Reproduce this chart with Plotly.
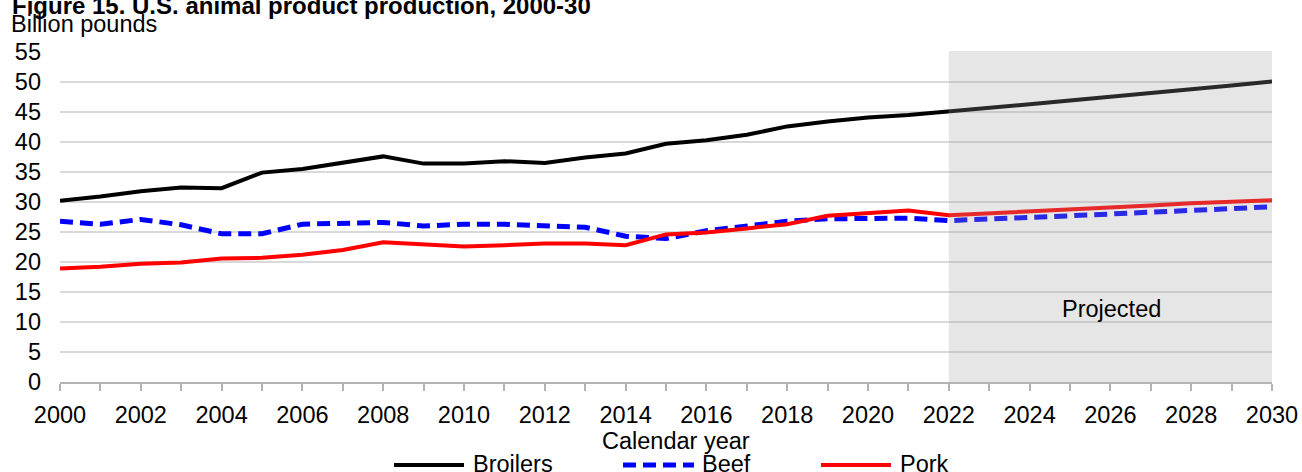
import plotly.graph_objects as go

years = list(range(2000, 2031))
broilers = [30.2, 30.9, 31.8, 32.4, 32.3, 34.9, 35.5, 36.6, 37.6, 36.4,
            36.4, 36.8, 36.5, 37.4, 38.1, 39.7, 40.3, 41.2, 42.6, 43.4,
            44.1, 44.5, 45.05, 45.7, 46.3, 46.9, 47.5, 48.1, 48.8, 49.4, 50.1]
beef = [26.8, 26.3, 27.1, 26.2, 24.7, 24.7, 26.3, 26.4, 26.6, 26.0,
        26.3, 26.3, 26.0, 25.8, 24.3, 23.9, 25.2, 26.1, 26.8, 27.2,
        27.3, 27.3, 26.9, 27.1, 27.4, 27.7, 28.0, 28.3, 28.6, 28.9, 29.2]
pork = [18.9, 19.2, 19.7, 19.9, 20.6, 20.7, 21.2, 22.0, 23.3, 23.0,
        22.6, 22.8, 23.1, 23.1, 22.8, 24.6, 24.9, 25.6, 26.3, 27.7,
        28.2, 28.6, 27.8, 28.1, 28.4, 28.7, 29.1, 29.4, 29.8, 30.0, 30.3]
series_names = ["Broilers", "Beef", "Pork"]
series_colors = ["#000000", "#0000FF", "#FF0000"]
y_ticks = list(range(0, 60, 5))
x_label_ticks = list(range(2000, 2031, 2))
projection_start = 2022

title_text = "Figure 15. U.S. animal product production, 2000-30"
unit_text = "Billion pounds"
xaxis_text = "Calendar year"
projected_text = "Projected"

W, H = 1302, 472
ML, MR, MT, MB = 60, 30, 51, 90
PW, PH = W - ML - MR, H - MT - MB
FONT = "Liberation Sans, Arial, sans-serif"
FS = 23.5


def px_x(px):
    return (px - ML) / PW


def px_y(py):
    return (H - MB - py) / PH


fig = go.Figure()
values = [broilers, beef, pork]
dashes = ["solid", "13px,7px", "solid"]
widths = [4, 5, 4]
for name, vals, col, dash, w in zip(series_names, values, series_colors, dashes, widths):
    fig.add_trace(go.Scatter(x=years, y=vals, mode="lines", name=name,
                             line=dict(color=col, width=w, dash=dash),
                             showlegend=False, hoverinfo="x+y+name"))

# Projection shading (overlaid, semi-transparent)
fig.add_shape(type="rect", xref="x", yref="paper", x0=projection_start, x1=years[-1],
              y0=0, y1=1, fillcolor="rgba(160,160,160,0.26)", line=dict(width=0),
              layer="above")

annotations = [
    dict(text="<b>" + title_text + "</b>", xref="paper", yref="paper",
         x=px_x(10), y=px_y(5.5), xanchor="left", yanchor="middle",
         showarrow=False, font=dict(size=24, color="#000", family=FONT)),
    dict(text=unit_text, xref="paper", yref="paper",
         x=px_x(9), y=px_y(23.5), xanchor="left", yanchor="middle",
         showarrow=False, font=dict(size=FS, color="#000", family=FONT)),
    dict(text=xaxis_text, xref="paper", yref="paper",
         x=px_x(676), y=px_y(441), xanchor="center", yanchor="middle",
         showarrow=False, font=dict(size=FS, color="#000", family=FONT)),
    dict(text=projected_text, xref="paper", yref="paper",
         x=px_x(1111.5), y=px_y(309), xanchor="center", yanchor="middle",
         showarrow=False, font=dict(size=FS, color="#000", family=FONT)),
]

# Custom legend
leg_y = 465
leg_items = [(394, 464, 471), (623, 694, 700), (821, 891, 898)]
for (x0, x1, tx), name, col, dash, w in zip(leg_items, series_names, series_colors, dashes, widths):
    fig.add_shape(type="line", xref="paper", yref="paper",
                  x0=px_x(x0), x1=px_x(x1), y0=px_y(leg_y), y1=px_y(leg_y),
                  line=dict(color=col, width=w, dash=dash), layer="above")
    annotations.append(dict(text=name, xref="paper", yref="paper",
                            x=px_x(tx), y=px_y(464), xanchor="left", yanchor="middle",
                            showarrow=False, font=dict(size=FS, color="#000", family=FONT)))

fig.update_layout(
    width=W, height=H, autosize=False,
    margin=dict(l=ML, r=MR, t=MT, b=MB, pad=0),
    paper_bgcolor="white", plot_bgcolor="white",
    font=dict(family=FONT, size=FS, color="#000"),
    showlegend=False,
    annotations=annotations,
    xaxis=dict(range=[2000, 2030], tickmode="array", tickvals=x_label_ticks,
               ticktext=[str(v) for v in x_label_ticks],
               ticks="outside", ticklen=7, tickwidth=2, tickcolor="#b3b3b3",
               minor=dict(ticks="outside", dtick=1, ticklen=7, tickwidth=2, tickcolor="#b3b3b3",
                          showgrid=False),
               showline=True, linecolor="#b3b3b3", linewidth=2,
               showgrid=False, zeroline=False, tickfont=dict(size=FS),
               ticklabelstandoff=4, automargin=False),
    yaxis=dict(range=[0, PH / 6.0], tickmode="array", tickvals=y_ticks,
               showgrid=True, gridcolor="#d9d9d9", gridwidth=2,
               zeroline=False, showline=False, ticks="",
               tickfont=dict(size=FS), ticklabelstandoff=18, automargin=False),
)

fig.write_html("out.html", config={"displayModeBar": False},
               post_script="document.body.style.margin='0';document.body.style.overflow='hidden';")
